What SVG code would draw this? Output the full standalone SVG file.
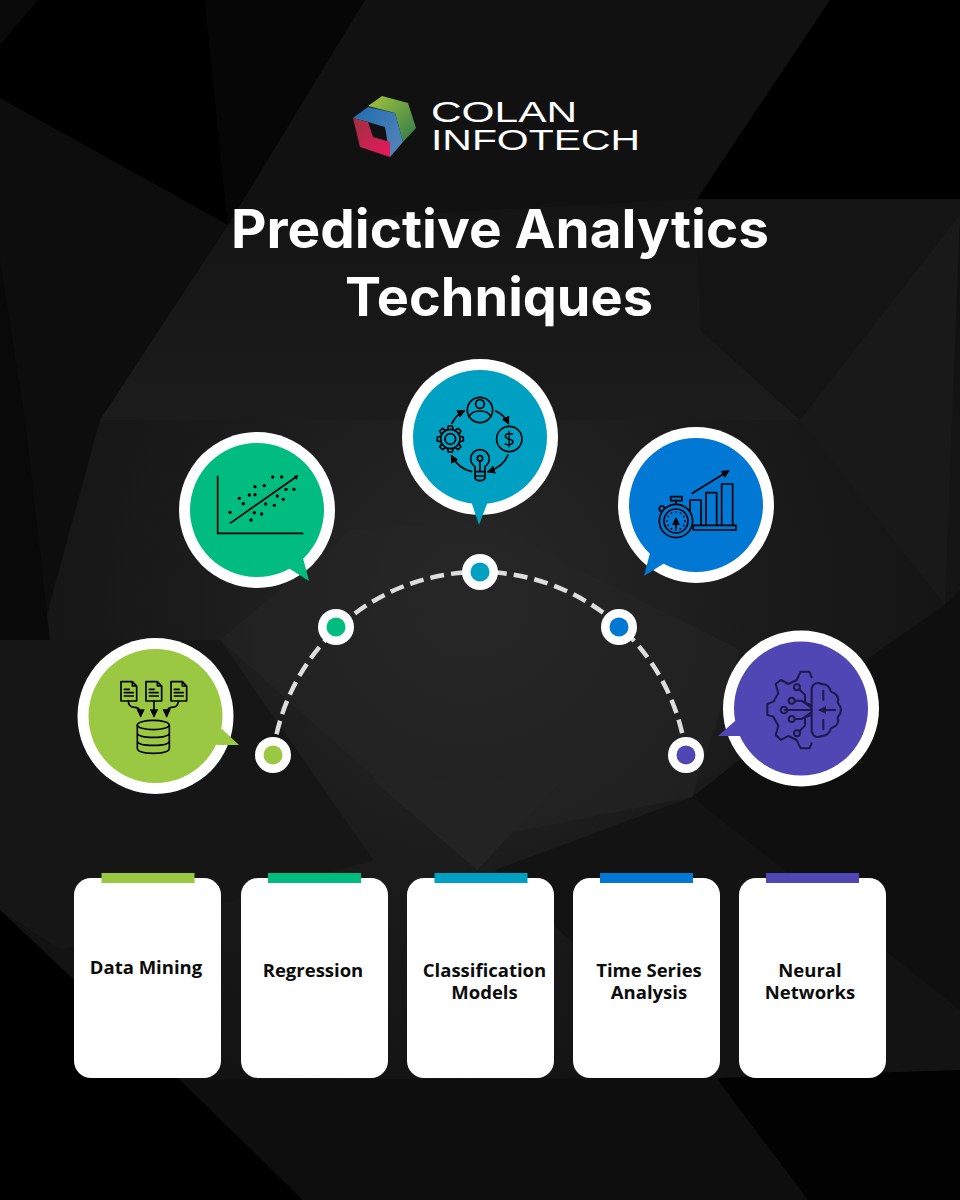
<svg xmlns="http://www.w3.org/2000/svg" width="960" height="1200" viewBox="0 0 960 1200">
<defs>
<radialGradient id="bgG" gradientUnits="userSpaceOnUse" cx="470" cy="600" r="620"><stop offset="0" stop-color="#282828"/><stop offset=".45" stop-color="#1b1b1b"/><stop offset="1" stop-color="#101010"/></radialGradient>
<linearGradient id="topG" gradientUnits="userSpaceOnUse" x1="0" y1="200" x2="0" y2="430"><stop offset="0" stop-color="#141414"/><stop offset="1" stop-color="#1c1c1c"/></linearGradient>
<linearGradient id="lgGreen" x1="0" y1="0" x2="1" y2="1"><stop offset="0" stop-color="#a4c43c"/><stop offset="1" stop-color="#2f7a4a"/></linearGradient>
<linearGradient id="lgBlue" x1="0" y1="0" x2="1" y2="1"><stop offset="0" stop-color="#1f6db0"/><stop offset="1" stop-color="#5a86b8"/></linearGradient>
<linearGradient id="lgRed" x1="0" y1="0" x2="1" y2="1"><stop offset="0" stop-color="#a03040"/><stop offset="1" stop-color="#e8185f"/></linearGradient>
<marker id="arr" markerWidth="5" markerHeight="5" refX="4" refY="2.500" orient="auto"><path d="M0 0L5 2.500L0 5z" fill="#000"/></marker>
<marker id="arrN" markerWidth="4" markerHeight="4" refX="3" refY="2" orient="auto"><path d="M0 0L4 2L0 4z" fill="#1c1a4a"/></marker>
<path id="tooth" d="M-8 -29L-6 -39H6L8 -29"/>
</defs>
<style>
.ring{fill:#fff}
.c1{fill:#9bc843}.c2{fill:#00bc7e}.c3{fill:#00a0c3}.c4{fill:#0078d4}.c5{fill:#5046b4}
.ico{fill:none;stroke:#000;stroke-width:5;stroke-linecap:round;stroke-linejoin:round}
.card{fill:#fff}
.lab{font-family:"Open Sans","Liberation Sans",sans-serif;font-weight:700;font-size:18.500px;fill:#0c0c0c;text-anchor:middle}
.ttl{font-family:Inter,"Liberation Sans",sans-serif;font-weight:700;font-size:53px;fill:#fff}
.logo{font-family:"Liberation Sans",Arial,sans-serif;font-size:30px;fill:#fff}
</style>
<g id="background">
<rect width="960" height="1200" fill="url(#bgG)"/>
<polygon points="365,0 830,0 697,199 228,225" fill="#111"/>
<polygon points="228,225 697,199 800,420 100,420" fill="url(#topG)"/>
<polygon points="0,98 228,225 100,420 40,640 0,640" fill="#0d0d0d"/>
<polygon points="0,260 25,420 50,640 0,640" fill="#090909"/>
<polygon points="0,0 205,0 228,225 0,98" fill="#000"/>
<polygon points="0,0 38,0 0,45" fill="#0a0a0a"/>
<polygon points="205,0 365,0 228,225" fill="#060606"/>
<polygon points="830,0 960,0 960,199 697,199" fill="#000"/>
<polygon points="697,199 960,199 960,230 800,420 700,330" fill="#141414"/>
<polygon points="960,215 945,605 800,420" fill="#191919"/>
<polygon points="220,640 350,530 480,520 740,650 692,797 450,845" fill="#262626" opacity=".5"/>
<polygon points="373,780 563,780 477,870" fill="#232323"/>
<polygon points="945,605 960,590 960,1010 692,797 880,650" fill="#0f0f0f"/>
<polygon points="692,797 960,1010 960,1075 716,1078 495,870" fill="#131313"/>
<polygon points="0,640 40,640 220,640 373,860 60,950 0,910" fill="#161616"/>
<polygon points="0,910 180,1080 303,1200 0,1200" fill="#000"/>
<polygon points="716,1078 960,1070 960,1200 808,1200" fill="#020202"/>
<polygon points="180,1080 716,1078 808,1200 303,1200" fill="#0e0e0e"/>
</g>
<g id="logo">
<polygon points="368,106 382,96 408,103 416,128 403,142 395,113" fill="url(#lgGreen)"/>
<polygon points="353,118 368,107 395,113 403,142 390,157 385,127 368,122" fill="url(#lgBlue)"/>
<polygon points="353,118 368,122 373,137 390,142 390,157 360,147" fill="url(#lgRed)"/>
<text class="logo" x="431" y="122" textLength="146" lengthAdjust="spacingAndGlyphs">COLAN</text>
<text class="logo" x="431" y="150" textLength="209" lengthAdjust="spacingAndGlyphs">INFOTECH</text>
</g>
<g id="title">
<text class="ttl" x="231" y="248" textLength="538" lengthAdjust="spacingAndGlyphs">Predictive Analytics</text>
<text class="ttl" x="345" y="316" textLength="308" lengthAdjust="spacingAndGlyphs">Techniques</text>
</g>
<g id="connectors">
<path d="M273 755A208 208 0 0 1 686 755" fill="none" stroke="#ddd" stroke-width="4.500" stroke-dasharray="14 7"/>
</g>
<g id="dot1"><circle class="ring" cx="273" cy="755" r="18"/><circle class="c1" cx="273" cy="755" r="9.500"/></g>
<g id="dot2"><circle class="ring" cx="336" cy="627" r="18"/><circle class="c2" cx="336" cy="627" r="9.500"/></g>
<g id="dot3"><circle class="ring" cx="480" cy="572" r="18"/><circle class="c3" cx="480" cy="572" r="9.500"/></g>
<g id="dot4"><circle class="ring" cx="619" cy="627" r="18"/><circle class="c4" cx="619" cy="627" r="9.500"/></g>
<g id="dot5"><circle class="ring" cx="686" cy="755" r="18"/><circle class="c5" cx="686" cy="755" r="9.500"/></g>

<g id="node-data-mining">
<circle class="ring" cx="155.500" cy="716" r="78"/><circle class="c1" cx="155.500" cy="716" r="67"/>
<polygon class="c1" points="222,729 239,745 217,745 205,735"/>
<g transform="translate(70 630) scale(.3333)" class="ico">
<path d="M153 155H187L200 168V213H153ZM187 155V168H200M163 178H178M163 188H190M163 198H190"/>
<path d="M228 155H262L275 168V213H228ZM262 155V168H275M238 178H253M238 188H265M238 198H265"/>
<path d="M303 155H337L350 168V213H303ZM337 155V168H350M313 178H328M313 188H340M313 198H340"/>
<path d="M175 213Q175 232 195 232Q212 232 212 258" marker-end="url(#arr)"/>
<path d="M252 213V258" marker-end="url(#arr)"/>
<path d="M325 213Q325 232 305 232Q290 232 290 258" marker-end="url(#arr)"/>
<ellipse cx="250" cy="285" rx="48" ry="14"/>
<path d="M202 285V355Q202 370 250 370Q298 370 298 355V285M202 308Q202 322 250 322Q298 322 298 308M202 332Q202 346 250 346Q298 346 298 332"/>
</g>
</g>

<g id="node-regression">
<circle class="ring" cx="257" cy="510" r="78"/><circle class="c2" cx="257" cy="510" r="67"/>
<polygon class="c2" points="303,558 309,581 290,569 280,560"/>
<g transform="translate(170 350) scale(.3333)">
<path d="M143 377V550H400" fill="none" stroke="#000" stroke-width="5"/>
<path d="M180 520L378 381" fill="none" stroke="#000" stroke-width="5"/>
<path d="M385 375L372 378L380 390z" fill="#000"/>
<g fill="#000"><circle cx="180" cy="487" r="5"/><circle cx="208" cy="445" r="5"/><circle cx="220" cy="461" r="5"/><circle cx="238" cy="435" r="5"/><circle cx="255" cy="410" r="5"/><circle cx="255" cy="434" r="5"/><circle cx="283" cy="407" r="5"/><circle cx="308" cy="381" r="5"/><circle cx="335" cy="381" r="5"/><circle cx="287" cy="462" r="5"/><circle cx="313" cy="466" r="5"/><circle cx="322" cy="438" r="5"/><circle cx="340" cy="448" r="5"/><circle cx="348" cy="418" r="5"/><circle cx="372" cy="418" r="5"/><circle cx="253" cy="488" r="5"/><circle cx="275" cy="492" r="5"/><circle cx="243" cy="510" r="5"/></g>
</g>
</g>

<g id="node-classification">
<circle class="ring" cx="480" cy="437" r="78"/><circle class="c3" cx="480" cy="437" r="67"/>
<polygon class="c3" points="471,495 488,495 487,504 479,525 472,504"/>
<g transform="translate(170 350) scale(.3333)" class="ico">
<circle cx="930" cy="180" r="38"/><circle cx="930" cy="162" r="13"/><path d="M897 200Q905 183 930 183Q955 183 963 200"/>
<circle cx="1018" cy="267" r="38"/>
<text x="1018" y="289" font-family="'Open Sans','Liberation Sans',sans-serif" font-size="60" text-anchor="middle" fill="#000" stroke="none">$</text>
<g transform="translate(841 267)"><circle r="29"/><circle r="16"/><use href="#tooth"/><use href="#tooth" transform="rotate(45)"/><use href="#tooth" transform="rotate(90)"/><use href="#tooth" transform="rotate(135)"/><use href="#tooth" transform="rotate(180)"/><use href="#tooth" transform="rotate(225)"/><use href="#tooth" transform="rotate(270)"/><use href="#tooth" transform="rotate(315)"/></g>
<path d="M915 365V350Q902 340 902 327A28 28 0 1 1 958 327Q958 340 945 350V365ZM930 365V333M915 365V382Q915 392 930 392Q945 392 945 382V365M915 378H945"/>
<circle cx="930" cy="325" r="8"/>
<path d="M846 220Q858 195 882 183" marker-end="url(#arr)"/>
<path d="M977 183Q1003 195 1015 220" marker-end="url(#arr)"/>
<path d="M1014 315Q1000 350 955 365" marker-end="url(#arr)"/>
<path d="M905 365Q865 355 845 318" marker-end="url(#arr)"/>
</g>
</g>

<g id="node-time-series">
<circle class="ring" cx="696" cy="505" r="78"/><circle class="c4" cx="696" cy="505" r="67"/>
<polygon class="c4" points="650,553 644,576 663,564 672,555 660,540"/>
<g transform="translate(600 420) scale(.3333)" class="ico">
<path d="M270 315V240H303V315M318 315V218H350V315M365 315V192H398V315"/>
<rect x="280" y="316" width="128" height="14"/>
<path d="M277 220L385 153" marker-end="url(#arr)"/>
<rect x="212" y="230" width="34" height="12"/><path d="M228 242V253"/>
<circle cx="186" cy="266" r="8"/>
<circle cx="228" cy="303" r="50" style="fill:#0078d4"/>
<circle cx="228" cy="303" r="36"/>
<circle cx="228" cy="303" r="27" stroke-dasharray="1 13"/>
<path d="M228 325V296" marker-end="url(#arr)"/>
</g>
</g>

<g id="node-neural-networks">
<circle class="ring" cx="801" cy="708.500" r="78"/><circle class="c5" cx="801" cy="708.500" r="67"/>
<polygon class="c5" points="735,721 745,725 740,736 718,736"/>
<g transform="translate(755 660) scale(.3333)" fill="none" stroke="#1c1a4a" stroke-width="6" stroke-linejoin="round" stroke-linecap="round">
<path d="M170 52L163 35H137L125 60L100 72L78 60L62 72L70 100L55 125L37 132V165L55 170L70 197L62 225L78 240L100 228L125 240L137 265H163L170 250"/>
<path d="M170 150V85Q178 62 200 72Q222 72 228 95Q256 105 248 128Q268 150 248 172Q256 195 228 205Q222 228 200 228Q178 238 170 215Z"/>
<path d="M240 150H195" marker-end="url(#arrN)"/>
<path d="M205 92V120M205 180V208M170 150H90"/>
<circle cx="126" cy="82" r="9"/><circle cx="110" cy="122" r="9"/><circle cx="87" cy="150" r="10"/><circle cx="110" cy="177" r="9"/><circle cx="126" cy="220" r="9"/>
<path d="M133 88L150 105V128L168 135M119 122H140L168 142M119 177H140L168 158M133 214L150 197V172L168 165"/>
</g>
</g>

<g id="card-data-mining"><rect class="card" x="74" y="878" width="147" height="200" rx="17"/><rect class="c1" x="101.500" y="873" width="93" height="10"/><text class="lab" x="146" y="974">Data Mining</text></g>
<g id="card-regression"><rect class="card" x="241" y="878" width="147" height="200" rx="17"/><rect class="c2" x="268" y="873" width="93" height="10"/><text class="lab" x="313" y="977">Regression</text></g>
<g id="card-classification"><rect class="card" x="407" y="878" width="147" height="200" rx="17"/><rect class="c3" x="434.500" y="873" width="93" height="10"/><text class="lab" x="484.500" y="977">Classification</text><text class="lab" x="484.500" y="999">Models</text></g>
<g id="card-time-series"><rect class="card" x="573" y="878" width="147" height="200" rx="17"/><rect class="c4" x="600" y="873" width="93" height="10"/><text class="lab" x="649" y="977">Time Series</text><text class="lab" x="649" y="999">Analysis</text></g>
<g id="card-neural-networks"><rect class="card" x="739" y="878" width="147" height="200" rx="17"/><rect class="c5" x="766" y="873" width="93" height="10"/><text class="lab" x="810" y="977">Neural</text><text class="lab" x="810" y="999">Networks</text></g>
</svg>
